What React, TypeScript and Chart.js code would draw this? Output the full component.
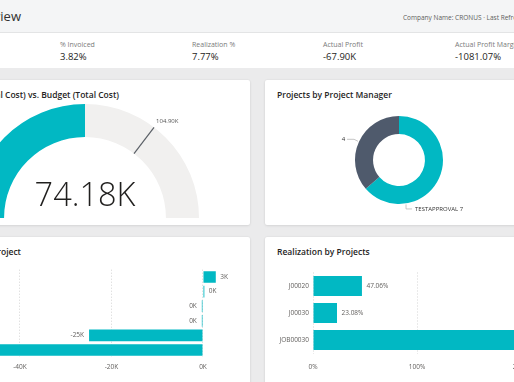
import React, { useEffect, useRef } from 'react';
import { Chart, registerables } from 'chart.js';
Chart.register(...registerables);

const FONT = '"Open Sans", "Noto Sans", sans-serif';
const TEAL = '#01B8C3';
const SLATE = '#4F5A6C';
const TRACK = '#F1F0EF';

// Header / KPI band
const pageTitle = 'Overview';
const companyInfo = 'Company Name: CRONUS · Last Refresh';
const kpiLabels = ['% Invoiced', 'Realization %', 'Actual Profit', 'Actual Profit Margin %'];
const kpiValues = ['3.82%', '7.77%', '-67.90K', '-1081.07%'];

// Gauge: Actual (Total Cost) vs. Budget (Total Cost)
const gaugeValue = 74180;
const gaugeTarget = 104900;
const gaugeMax = 148360;

// Donut: Projects by Project Manager
const managerNames = ['TESTAPPROVAL', ''];
const managerCounts = [7, 4];

// Bars: Actual Profit by Project
const profitProjects = ['J00010', 'J00020', 'J00030', 'JOB00010', 'JOB00020', 'JOB00030'];
const profitValues = [2800, 300, -250, -250, -24900, -45600];
const profitTickValues = [-40000, -20000, 0];

// Bars: Realization by Projects
const realProjects = ['J00020', 'J00030', 'JOB00030'];
const realValues = [47.06, 23.08, 280];

const fmtK = (v: number) => `${Math.round(v / 1000) || 0}K`;

function ChartCanvas({ left, top, width, height, make }: any) {
  const ref = useRef<HTMLCanvasElement>(null);
  useEffect(() => {
    const chart = new Chart(ref.current as HTMLCanvasElement, make());
    return () => chart.destroy();
  }, []);
  return (
    <canvas
      ref={ref}
      width={width}
      height={height}
      style={{ position: 'absolute', left, top, width, height, display: 'block' }}
    />
  );
}

function fmtK2(v: number) {
  return `${(v / 1000).toFixed(2)}K`;
}

const gaugePlugin = {
  id: 'gaugeDeco',
  afterDraw(chart: any) {
    const arc = chart.getDatasetMeta(0).data[0];
    const { x, y, innerRadius, outerRadius } = arc.getProps(['x', 'y', 'innerRadius', 'outerRadius'], true);
    const ctx = chart.ctx;
    const ang = Math.PI + (gaugeTarget / gaugeMax) * Math.PI;
    const c = Math.cos(ang), s = Math.sin(ang);
    ctx.save();
    ctx.strokeStyle = '#5a5f66';
    ctx.lineWidth = 1.2;
    ctx.beginPath();
    ctx.moveTo(x + c * innerRadius, y + s * innerRadius);
    ctx.lineTo(x + c * outerRadius, y + s * outerRadius);
    ctx.stroke();
    ctx.font = `6px ${FONT}`;
    ctx.fillStyle = '#555';
    ctx.textAlign = 'left';
    ctx.textBaseline = 'middle';
    ctx.fillText(fmtK2(gaugeTarget), x + c * outerRadius + 2, y + s * outerRadius - 6);
    ctx.font = `300 32.5px ${FONT}`;
    ctx.fillStyle = '#201f1e';
    ctx.textAlign = 'center';
    ctx.textBaseline = 'alphabetic';
    ctx.fillText(fmtK2(gaugeValue), x, y - 12);
    ctx.restore();
  },
};

const donutLabelAngles = [81, null]; // null => mid-angle of slice
const donutPlugin = {
  id: 'donutLabels',
  afterDraw(chart: any) {
    const ctx = chart.ctx;
    const meta = chart.getDatasetMeta(0);
    ctx.save();
    ctx.font = `6px ${FONT}`;
    ctx.fillStyle = '#333';
    ctx.strokeStyle = '#b8b8b8';
    ctx.lineWidth = 0.8;
    ctx.textBaseline = 'middle';
    meta.data.forEach((el: any, i: number) => {
      const { x, y, startAngle, endAngle, outerRadius } = el.getProps(
        ['x', 'y', 'startAngle', 'endAngle', 'outerRadius'],
        true
      );
      const fixed = donutLabelAngles[i];
      const a = fixed == null ? (startAngle + endAngle) / 2 : (fixed * Math.PI) / 180;
      const px = x + Math.cos(a) * (outerRadius + 1);
      const py = y + Math.sin(a) * (outerRadius + 1);
      const text = `${managerNames[i]} ${managerCounts[i]}`.trim();
      ctx.beginPath();
      if (Math.cos(a) < 0) {
        ctx.moveTo(px, py);
        ctx.lineTo(px - 4, py - 2);
        ctx.lineTo(px - 11, py - 2);
        ctx.stroke();
        ctx.textAlign = 'right';
        ctx.fillText(text, px - 13, py - 2);
      } else {
        ctx.moveTo(px, py);
        ctx.lineTo(px, py + 4.5);
        ctx.lineTo(px + 6, py + 4.5);
        ctx.stroke();
        ctx.textAlign = 'left';
        ctx.fillText(text, px + 9, py + 5);
      }
    });
    ctx.restore();
  },
};

function barLabels(fmt: (v: number) => string) {
  return {
    id: 'barLabels',
    afterDatasetsDraw(chart: any) {
      const ctx = chart.ctx;
      const meta = chart.getDatasetMeta(0);
      const data = chart.data.datasets[0].data;
      ctx.save();
      ctx.font = `6.5px ${FONT}`;
      ctx.fillStyle = '#605e5c';
      ctx.textBaseline = 'middle';
      meta.data.forEach((el: any, i: number) => {
        const v = data[i];
        const { x, y } = el.getProps(['x', 'y'], true);
        if (v >= 0) {
          ctx.textAlign = 'left';
          ctx.fillText(fmt(v), x + 4.5, y);
        } else {
          ctx.textAlign = 'right';
          ctx.fillText(fmt(v), x - 5, y);
        }
      });
      ctx.restore();
    },
  };
}

const tickFont = { family: FONT, size: 6.5 };

function makeGauge() {
  return {
    type: 'doughnut',
    data: {
      labels: ['Actual', 'Remaining'],
      datasets: [
        {
          data: [gaugeValue, gaugeMax - gaugeValue],
          backgroundColor: [TEAL, TRACK],
          borderWidth: 0,
        },
      ],
    },
    options: {
      responsive: false,
      animation: false,
      rotation: -90,
      circumference: 180,
      cutout: '71%',
      layout: { padding: 0 },
      plugins: { legend: { display: false }, tooltip: { enabled: false } },
    },
    plugins: [gaugePlugin],
  } as any;
}

function makeDonut() {
  return {
    type: 'doughnut',
    data: {
      labels: managerNames,
      datasets: [
        {
          data: managerCounts,
          backgroundColor: [TEAL, SLATE],
          borderWidth: 0,
        },
      ],
    },
    options: {
      responsive: false,
      animation: false,
      cutout: '59%',
      layout: { padding: { left: 35, right: 47, top: 6, bottom: 16 } },
      plugins: { legend: { display: false }, tooltip: { enabled: false } },
    },
    plugins: [donutPlugin],
  } as any;
}

function makeProfit() {
  return {
    type: 'bar',
    data: {
      labels: profitProjects,
      datasets: [
        {
          data: profitValues,
          backgroundColor: TEAL,
          borderWidth: 0,
          categoryPercentage: 1,
          barPercentage: 0.8,
        },
      ],
    },
    options: {
      indexAxis: 'y',
      responsive: false,
      animation: false,
      layout: { padding: { left: 14.25, right: 33.3, top: 14.7, bottom: 0 } },
      scales: {
        x: {
          min: -50000,
          max: 3000,
          afterBuildTicks: (s: any) => {
            s.ticks = profitTickValues.map((v) => ({ value: v }));
          },
          afterFit: (s: any) => {
            s.height = 22.7;
          },
          grid: { color: '#d4d4d4', drawTicks: false, lineWidth: 1 },
          border: { display: false, dash: [1, 2] },
          ticks: { font: tickFont, color: '#605e5c', padding: 6, callback: (v: any) => fmtK(v) },
        },
        y: { display: false },
      },
      plugins: { legend: { display: false }, tooltip: { enabled: false } },
    },
    plugins: [barLabels(fmtK)],
  } as any;
}

function makeReal() {
  return {
    type: 'bar',
    data: {
      labels: realProjects,
      datasets: [
        {
          data: realValues,
          backgroundColor: TEAL,
          borderWidth: 0,
          categoryPercentage: 1,
          barPercentage: 0.74,
        },
      ],
    },
    options: {
      indexAxis: 'y',
      responsive: false,
      animation: false,
      layout: { padding: { left: 0, right: 40, top: 10.5, bottom: 0 } },
      scales: {
        x: {
          min: 0,
          max: 300,
          ticks: {
            stepSize: 100,
            font: tickFont,
            color: '#605e5c',
            padding: 10,
            callback: (v: any) => `${v}%`,
          },
          afterFit: (s: any) => {
            s.height = 26.5;
          },
          grid: { color: '#d4d4d4', drawTicks: false },
          border: { display: false, dash: [1, 2] },
        },
        y: {
          afterFit: (s: any) => {
            s.width = 48;
          },
          grid: { display: false, drawTicks: false },
          border: { display: false },
          ticks: { font: tickFont, color: '#605e5c', padding: 4 },
        },
      },
      plugins: { legend: { display: false }, tooltip: { enabled: false } },
    },
    plugins: [barLabels((v) => `${v.toFixed(2)}%`)],
  } as any;
}

const cardStyle: any = {
  position: 'absolute',
  background: '#fff',
  boxShadow: '0 0 2px rgba(0,0,0,0.08), 0 1px 3px rgba(0,0,0,0.07)',
  borderRadius: 2,
};

const titleStyle: any = {
  position: 'absolute',
  fontFamily: FONT,
  fontSize: 8.5,
  fontWeight: 600,
  color: '#252423',
  whiteSpace: 'nowrap',
  lineHeight: '12px',
};

export default function App() {
  const kpiX = [60, 192, 323, 455];
  return (
    <div
      style={{
        position: 'fixed',
        left: 0,
        top: 0,
        width: 514,
        height: 382,
        overflow: 'hidden',
        background: '#ebebec',
        fontFamily: FONT,
      }}
    >
      <div style={{ position: 'absolute', left: 0, top: 0, width: 514, height: 32, background: '#f4f5f6', borderBottom: '1px solid #e3e4e5' }} />
      <div style={{ position: 'absolute', right: 493, top: 7, fontSize: 13, color: '#323130', whiteSpace: 'nowrap', lineHeight: '18px' }}>{pageTitle}</div>
      <div style={{ position: 'absolute', left: 403, top: 13, fontSize: 6.5, color: '#605e5c', whiteSpace: 'nowrap', lineHeight: '9px' }}>{companyInfo}</div>
      <div style={{ position: 'absolute', left: 0, top: 33, width: 514, height: 35, background: '#fff' }} />
      {kpiLabels.map((l, i) => (
        <React.Fragment key={l}>
          <div style={{ position: 'absolute', left: kpiX[i], top: 40, fontSize: 7, color: '#7a7a7a', whiteSpace: 'nowrap', lineHeight: '10px' }}>{l}</div>
          <div style={{ position: 'absolute', left: kpiX[i], top: 51, fontSize: 9.5, color: '#252423', whiteSpace: 'nowrap', lineHeight: '12px' }}>{kpiValues[i]}</div>
        </React.Fragment>
      ))}

      <div style={{ ...cardStyle, left: -20, top: 80, width: 270, height: 145 }} />
      <div style={{ ...cardStyle, left: 265, top: 80, width: 270, height: 145 }} />
      <div style={{ ...cardStyle, left: -20, top: 237, width: 270, height: 160 }} />
      <div style={{ ...cardStyle, left: 265, top: 237, width: 270, height: 160 }} />

      <div style={{ ...titleStyle, right: 514 - 119, top: 89 }}>Actual (Total Cost) vs. Budget (Total Cost)</div>
      <div style={{ ...titleStyle, left: 277, top: 89 }}>Projects by Project Manager</div>
      <div style={{ ...titleStyle, right: 514 - 21, top: 246 }}>Actual Profit by Project</div>
      <div style={{ ...titleStyle, left: 277, top: 246 }}>Realization by Projects</div>

      <ChartCanvas left={-29} top={104} width={228} height={114} make={makeGauge} />
      <ChartCanvas left={320} top={110} width={170} height={110} make={makeDonut} />
      <ChartCanvas left={-40} top={255} width={290} height={125} make={makeProfit} />
      <ChartCanvas left={265} top={262} width={400} height={118} make={makeReal} />
    </div>
  );
}
